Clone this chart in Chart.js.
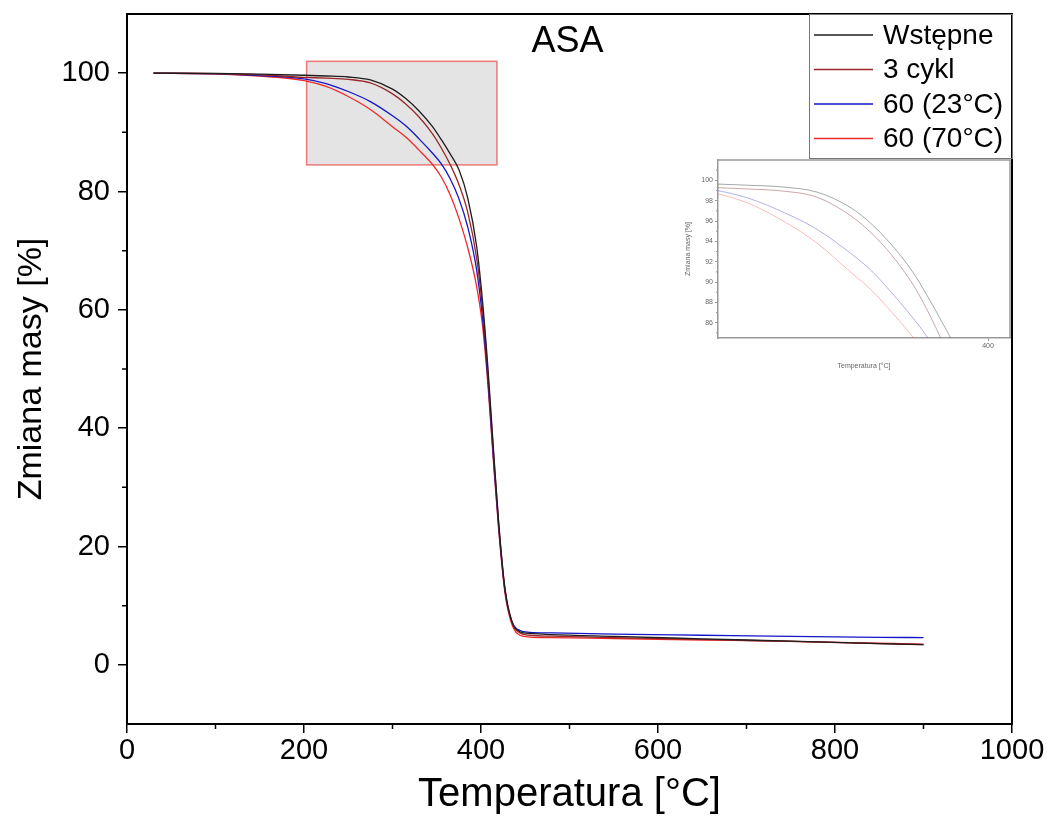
<!DOCTYPE html>
<html><head><meta charset="utf-8">
<script src="https://cdn.jsdelivr.net/npm/chart.js@4.4.1/dist/chart.umd.min.js"></script>
<style>
html,body{margin:0;padding:0;background:#fff;}
#wrap{position:relative;width:1047px;height:836px;overflow:hidden;}
#main{position:absolute;left:0;top:0;}
#inset{position:absolute;left:680px;top:155px;}
</style></head><body>
<div id="wrap"><canvas id="main" width="1047" height="836"></canvas><canvas id="inset" width="340" height="220"></canvas></div>
<script>
// ---- data ----
const temperature = [30, 100, 150, 200, 225, 250, 275, 300, 315, 330, 345, 355, 365, 375, 385, 395, 402, 408, 414, 420, 427, 435, 444, 455, 480, 550, 650, 750, 850, 900];
const wstepne   = [100, 99.95, 99.85, 99.65, 99.52, 99.35, 98.85, 97.3, 95.7, 93.6, 91.0, 88.8, 86.4, 83.7, 78.9, 70.8, 61.0, 49.8, 36.6, 24, 13, 7.3, 5.6, 5.3, 5.1, 4.8, 4.4, 4.0, 3.6, 3.4];
const cykl3     = [100, 99.9, 99.7, 99.3, 99.15, 98.95, 98.35, 96.5, 94.8, 92.6, 89.8, 87.4, 84.6, 81.2, 76.5, 68.8, 59.8, 49, 36, 23.8, 12.8, 7.1, 5.4, 5.0, 4.85, 4.6, 4.3, 3.95, 3.6, 3.4];
const s60_23    = [100, 99.9, 99.6, 99.05, 98.25, 96.9, 95.2, 92.8, 91.1, 88.9, 86.5, 84.7, 82.2, 78.8, 74.0, 66.8, 58.3, 47.8, 35, 23.2, 12.6, 7.3, 5.8, 5.5, 5.4, 5.2, 5.0, 4.8, 4.65, 4.6];
const s60_70    = [100, 99.9, 99.5, 98.75, 97.75, 96.05, 93.85, 90.95, 89.2, 87.0, 84.6, 82.5, 79.5, 75.5, 70.5, 64.0, 57.0, 47.0, 34.5, 22.8, 12.2, 6.8, 5.0, 4.7, 4.6, 4.45, 4.2, 3.95, 3.65, 3.5];
const seriesNames = ['Wstępne', '3 cykl', '60 (23°C)', '60 (70°C)'];
const seriesColors = ['#1e1e1e', '#9a2626', '#1414c8', '#f02828'];
const insetColors = ['rgba(60,60,60,0.45)', 'rgba(140,60,60,0.45)', 'rgba(60,60,200,0.4)', 'rgba(240,60,60,0.35)'];
const xTicks = [0, 200, 400, 600, 800, 1000];
const xMinorTicks = [100, 300, 500, 700, 900];
const yTicks = [0, 20, 40, 60, 80, 100];
const yMinorTicks = [10, 30, 50, 70, 90];
const zoomBox = [203, 418, 84.5, 102]; // xMin, xMax, yMin, yMax
const insetXTicks = [400];
const insetYTicks = [86, 88, 90, 92, 94, 96, 98, 100];
const insetYMinor = [85, 87, 89, 91, 93, 95, 97, 99, 101];

const seriesValues = [wstepne, cykl3, s60_23, s60_70];
const FONT = "'Liberation Sans', Arial, sans-serif";

function makeDatasets(colors, width) {
  return seriesValues.map((vals, k) => ({
    label: seriesNames[k],
    data: temperature.map((t, i) => ({x: t, y: vals[i]})),
    borderColor: colors[k],
    backgroundColor: colors[k],
    borderWidth: width,
    pointRadius: 0,
    showLine: true,
    cubicInterpolationMode: 'monotone'
  }));
}
function noPadX(a, h) { a.height = h; a.paddingLeft = 0; a.paddingRight = 0; }
function noPadY(a, w) { a.width = w; a.paddingTop = 0; a.paddingBottom = 0; }

const mainDecor = {
  id: 'mainDecor',
  beforeDatasetsDraw(chart) {
    const {ctx, scales: {x, y}} = chart;
    const x0 = x.getPixelForValue(zoomBox[0]), x1 = x.getPixelForValue(zoomBox[1]);
    const y0 = y.getPixelForValue(zoomBox[3]), y1 = y.getPixelForValue(zoomBox[2]);
    ctx.save();
    ctx.fillStyle = '#e4e4e4';
    ctx.fillRect(x0, y0, x1 - x0, y1 - y0);
    ctx.strokeStyle = '#f07878';
    ctx.lineWidth = 1.5;
    ctx.strokeRect(x0, y0, x1 - x0, y1 - y0);
    ctx.restore();
  },
  afterDraw(chart) {
    const {ctx, chartArea: ca, scales: {x, y}} = chart;
    ctx.save();
    // frame top/right
    ctx.strokeStyle = '#000';
    ctx.lineWidth = 2;
    ctx.beginPath();
    ctx.moveTo(ca.left - 1, ca.top); ctx.lineTo(ca.right, ca.top); ctx.lineTo(ca.right, ca.bottom + 1);
    ctx.stroke();
    // minor ticks
    ctx.lineWidth = 1.5;
    ctx.beginPath();
    xMinorTicks.forEach(v => { const p = x.getPixelForValue(v); ctx.moveTo(p, ca.bottom); ctx.lineTo(p, ca.bottom + 5); });
    yMinorTicks.forEach(v => { const p = y.getPixelForValue(v); ctx.moveTo(ca.left, p); ctx.lineTo(ca.left - 5, p); });
    ctx.stroke();
    // title
    ctx.fillStyle = '#000';
    ctx.font = '36px ' + FONT;
    ctx.textAlign = 'center';
    ctx.textBaseline = 'middle';
    ctx.fillText('ASA', (ca.left + ca.right) / 2 - 2, ca.top + 28);
    // legend
    const bx = ca.right - 203, by = ca.top, bw = 203, bh = 144;
    ctx.fillStyle = '#fff';
    ctx.fillRect(bx, by + 1, bw - 1, bh - 1);
    ctx.strokeStyle = '#777';
    ctx.lineWidth = 1;
    ctx.strokeRect(bx + 0.5, by + 0.5, bw, bh);
    ctx.font = '28px ' + FONT;
    ctx.textAlign = 'left';
    chart.data.datasets.forEach((ds, i) => {
      const ry = by + 21 + i * 34.5;
      ctx.strokeStyle = ds.borderColor;
      ctx.lineWidth = 1.3;
      ctx.beginPath(); ctx.moveTo(bx + 5, ry); ctx.lineTo(bx + 64, ry); ctx.stroke();
      ctx.fillStyle = '#000';
      ctx.fillText(ds.label, bx + 74, ry + 1);
    });
    ctx.restore();
  }
};

new Chart(document.getElementById('main'), {
  type: 'scatter',
  data: {datasets: makeDatasets(seriesColors, 1.3)},
  options: {
    responsive: false, animation: false, devicePixelRatio: 1,
    layout: {padding: {top: 14, right: 35, left: 0, bottom: 0}},
    plugins: {legend: {display: false}, tooltip: {enabled: false}},
    scales: {
      x: {
        type: 'linear', min: 0, max: 1000,
        afterBuildTicks: a => { a.ticks = xTicks.map(v => ({value: v})); },
        afterFit: a => noPadX(a, 112),
        ticks: {font: {family: FONT, size: 29}, color: '#000', padding: 1, maxRotation: 0, callback: v => String(v)},
        grid: {drawOnChartArea: false, tickLength: 9, color: '#000', lineWidth: 1.5},
        border: {color: '#000', width: 2},
        title: {display: true, text: 'Temperatura [°C]', color: '#000', font: {family: FONT, size: 40}, padding: {top: 0, bottom: 17}}
      },
      y: {
        type: 'linear', min: -10, max: 110,
        afterBuildTicks: a => { a.ticks = yTicks.map(v => ({value: v})); },
        afterFit: a => noPadY(a, 127),
        ticks: {font: {family: FONT, size: 29}, color: '#000', padding: 8, callback: v => String(v)},
        grid: {drawOnChartArea: false, tickLength: 9, color: '#000', lineWidth: 1.5},
        border: {color: '#000', width: 2},
        title: {display: true, text: 'Zmiana masy [%]', color: '#000', font: {family: FONT, size: 34}, padding: {top: 11, bottom: 0}}
      }
    }
  },
  plugins: [mainDecor]
});

const insetDecor = {
  id: 'insetDecor',
  afterDraw(chart) {
    const {ctx, chartArea: ca, scales: {y}} = chart;
    ctx.save();
    ctx.strokeStyle = '#999';
    ctx.lineWidth = 1.5;
    ctx.beginPath();
    ctx.moveTo(ca.left, ca.top); ctx.lineTo(ca.right, ca.top); ctx.lineTo(ca.right, ca.bottom);
    ctx.stroke();
    ctx.lineWidth = 1;
    ctx.beginPath();
    insetYMinor.forEach(v => { const p = y.getPixelForValue(v); ctx.moveTo(ca.left, p); ctx.lineTo(ca.left - 2, p); });
    ctx.stroke();
    ctx.restore();
  }
};

new Chart(document.getElementById('inset'), {
  type: 'scatter',
  data: {datasets: makeDatasets(insetColors, 1)},
  options: {
    responsive: false, animation: false, devicePixelRatio: 1,
    layout: {padding: {top: 5, right: 10, left: 0, bottom: 0}},
    plugins: {legend: {display: false}, tooltip: {enabled: false}},
    scales: {
      x: {
        type: 'linear', min: 203, max: 416,
        afterBuildTicks: a => { a.ticks = insetXTicks.map(v => ({value: v})); },
        afterFit: a => noPadX(a, 37),
        ticks: {font: {family: FONT, size: 7}, color: '#666', padding: 1, maxRotation: 0},
        grid: {drawOnChartArea: false, tickLength: 3, color: '#999', lineWidth: 1},
        border: {color: '#999', width: 1.5},
        title: {display: true, text: 'Temperatura [°C]', color: '#666', font: {family: FONT, size: 7}, padding: {top: 0, bottom: 5}}
      },
      y: {
        type: 'linear', min: 84.5, max: 102,
        afterBuildTicks: a => { a.ticks = insetYTicks.map(v => ({value: v})); },
        afterFit: a => noPadY(a, 38),
        ticks: {font: {family: FONT, size: 7}, color: '#666', padding: 2},
        grid: {drawOnChartArea: false, tickLength: 3, color: '#999', lineWidth: 1},
        border: {color: '#999', width: 1.5},
        title: {display: true, text: 'Zmiana masy [%]', color: '#666', font: {family: FONT, size: 7}, padding: {top: 4, bottom: 0}}
      }
    }
  },
  plugins: [insetDecor]
});
</script>
</body></html>
